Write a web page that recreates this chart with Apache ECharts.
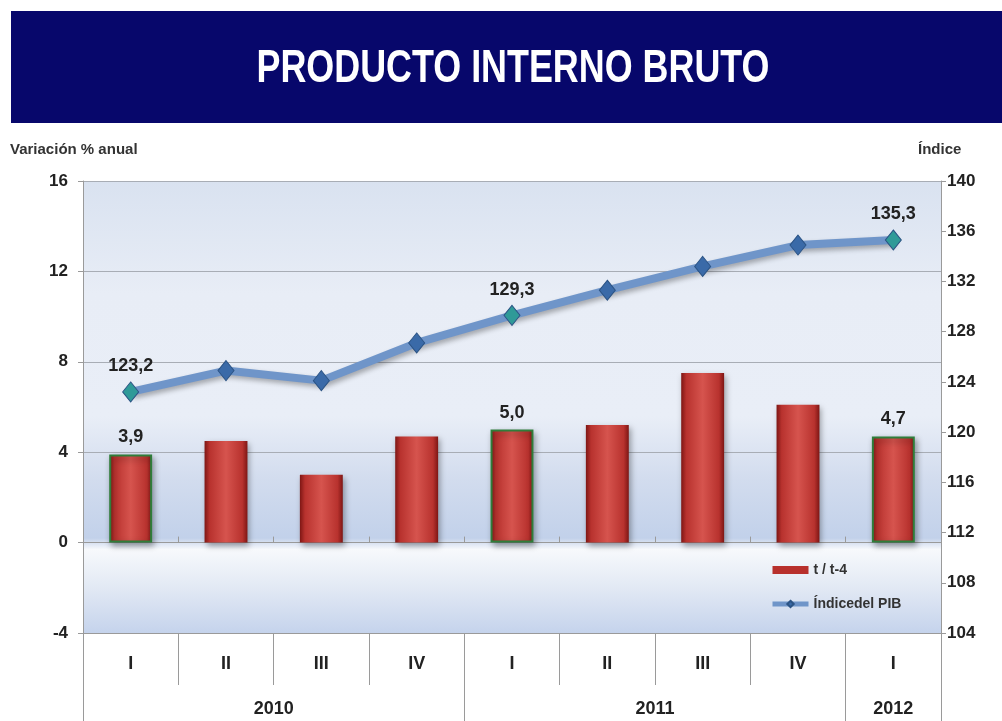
<!DOCTYPE html>
<html>
<head>
<meta charset="utf-8">
<script src="https://cdn.jsdelivr.net/npm/echarts@6/dist/echarts.min.js"></script>
<style>
html,body{margin:0;padding:0;background:#fff;}
#c{width:1002px;height:721px;}
</style>
</head>
<body>
<div id="c"></div>
<script>
var titleText = 'PRODUCTO INTERNO BRUTO';
var quarters = ['I','II','III','IV','I','II','III','IV','I'];
var years = ['2010','2011','2012'];
var yearSpans = [4,4,1];
var variacion = [3.9, 4.5, 3.0, 4.7, 5.0, 5.2, 7.5, 6.1, 4.7];
var indice = [123.2, 124.9, 124.1, 127.1, 129.3, 131.3, 133.2, 134.9, 135.3];
var labeledIdx = [0, 4, 8];
var leftAxisName = 'Variación % anual';
var rightAxisName = 'Índice';
var barName = 't / t-4';
var lineName = 'Índicedel PIB';

var FONT = '"Liberation Sans",Arial,sans-serif';

var yearBounds = [0], yearCenters = [];
(function(){var acc=0;for(var i=0;i<yearSpans.length;i++){yearCenters.push(acc+yearSpans[i]/2);acc+=yearSpans[i];yearBounds.push(acc);}})();

function fmt(v){return v.toFixed(1).replace('.', ',');}

var barData = variacion.map(function(v,i){
  var lab = labeledIdx.indexOf(i) >= 0;
  return {value:v, itemStyle: lab ? {borderColor:'#2f7d3a', borderWidth:2} : {}, label:{show:lab}};
});
var lineData = indice.map(function(v,i){
  var lab = labeledIdx.indexOf(i) >= 0;
  return {value:v, itemStyle:{color: lab ? '#2f9a98' : '#3a6aa8'}, label:{show:lab}};
});

var chart = echarts.init(document.getElementById('c'));
chart.setOption({
  backgroundColor:'#ffffff',
  animation:false,
  graphic:[
    {type:'rect', shape:{x:11,y:11,width:991,height:112}, style:{fill:'#07076b'}, z:-1},
    {type:'text', x:513, y:69, scaleX:0.78, originX:0, originY:0,
     style:{text:titleText, fill:'#ffffff', font:'bold 46px "Liberation Sans",Arial,sans-serif',
       textAlign:'center', textVerticalAlign:'middle'}, z:5}
  ],
  legend:{
    orient:'vertical', left:765, top:558, itemGap:20, itemWidth:36, itemHeight:8,
    textStyle:{fontFamily:FONT, fontWeight:'bold', fontSize:14, color:'#333'},
    data:[{name:barName, icon:'rect', itemStyle:{color:'#b8302c', borderWidth:0}},
          {name:lineName, lineStyle:{width:5, color:'#6f95c9'}}]
  },
  grid:{left:83, right:61, top:181, bottom:88, show:true, borderWidth:0,
    backgroundColor:{type:'linear', x:0, y:0, x2:0, y2:1, colorStops:[
      {offset:0, color:'#d9e2f0'},
      {offset:0.25, color:'#e8edf6'},
      {offset:0.52, color:'#e9eef7'},
      {offset:0.66, color:'#d2dcee'},
      {offset:0.79, color:'#c2d1ea'},
      {offset:0.815, color:'#f7f9fc'},
      {offset:0.9, color:'#e2e9f4'},
      {offset:1, color:'#c5d3ec'}]}},
  xAxis:[
    {type:'category', data:quarters, position:'bottom', axisLine:{show:true, onZero:false, lineStyle:{color:'#9a9a9a'}},
     axisTick:{show:true, length:52, lineStyle:{color:'#9a9a9a'}},
     axisLabel:{show:true, margin:22, fontFamily:FONT, fontWeight:'bold', fontSize:18, color:'#222'}},
    {type:'value', min:0, max:quarters.length, position:'bottom',
     axisLine:{show:false, onZero:false}, splitLine:{show:false},
     axisTick:{show:true, customValues:yearBounds, length:88, lineStyle:{color:'#9a9a9a'}},
     axisLabel:{show:true, customValues:yearCenters, margin:67, fontFamily:FONT, fontWeight:'bold', fontSize:18, color:'#222',
       formatter:function(v){var i=yearCenters.indexOf(v);return i>=0?years[i]:'';}}},
    {type:'category', data:quarters, axisLine:{show:true, onZero:true, lineStyle:{color:'#9a9a9a'}},
     axisTick:{show:true, length:6, lineStyle:{color:'#9a9a9a'}}, axisLabel:{show:false}}
  ],
  yAxis:[
    {type:'value', min:-4, max:16, interval:4, position:'left',
     name:leftAxisName, nameLocation:'end', nameGap:24,
     nameTextStyle:{align:'left', padding:[0,0,0,-73], fontFamily:FONT, fontWeight:'bold', fontSize:15, color:'#333'},
     axisLine:{show:true, lineStyle:{color:'#9a9a9a'}}, axisTick:{show:true, length:5, lineStyle:{color:'#9a9a9a'}},
     axisLabel:{margin:15, fontFamily:FONT, fontWeight:'bold', fontSize:17, color:'#222'},
     splitLine:{show:true, lineStyle:{color:'#a8adb5', width:1}}},
    {type:'value', min:104, max:140, interval:4, position:'right',
     name:rightAxisName, nameLocation:'end', nameGap:24,
     nameTextStyle:{align:'left', padding:[0,0,0,-23], fontFamily:FONT, fontWeight:'bold', fontSize:15, color:'#333'},
     axisLine:{show:true, lineStyle:{color:'#9a9a9a'}}, axisTick:{show:true, length:5, lineStyle:{color:'#9a9a9a'}},
     axisLabel:{margin:6, fontFamily:FONT, fontWeight:'bold', fontSize:17, color:'#222'},
     splitLine:{show:false}}
  ],
  series:[
    {name:barName, type:'bar', xAxisIndex:0, yAxisIndex:0, barWidth:'45%', data:barData,
     itemStyle:{color:{type:'linear', x:0, y:0, x2:1, y2:0, colorStops:[
        {offset:0, color:'#7e1614'},{offset:0.12, color:'#b8322e'},{offset:0.5, color:'#d6544e'},
        {offset:0.88, color:'#b8322e'},{offset:1, color:'#7e1614'}]},
       shadowColor:'rgba(0,0,0,0.35)', shadowBlur:6, shadowOffsetX:2, shadowOffsetY:3},
     label:{position:'top', distance:8, fontFamily:FONT, fontWeight:'bold', fontSize:18, color:'#222',
       formatter:function(p){return fmt(p.value);}}},
    {name:lineName, type:'line', xAxisIndex:0, yAxisIndex:1, data:lineData,
     symbol:'diamond', symbolSize:[16,20],
     lineStyle:{color:'#6f95c9', width:8, shadowColor:'rgba(0,0,0,0.3)', shadowBlur:5, shadowOffsetX:2, shadowOffsetY:3},
     itemStyle:{color:'#3a6aa8', borderColor:'#2c5485', borderWidth:1},
     label:{position:'top', distance:6, fontFamily:FONT, fontWeight:'bold', fontSize:18, color:'#222',
       formatter:function(p){return fmt(p.value);}}}
  ]
});
</script>
</body>
</html>
